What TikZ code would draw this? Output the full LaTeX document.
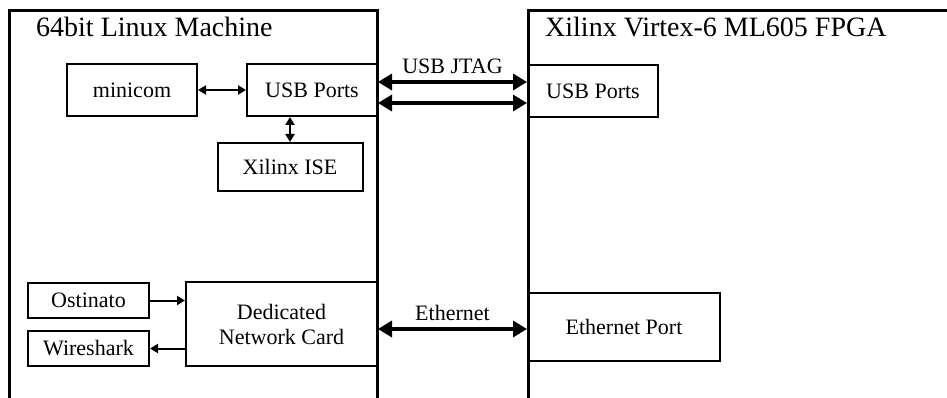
\documentclass[tikz,border=0pt]{standalone}
\usepackage{fontspec}
\setmainfont{Liberation Serif}
\usetikzlibrary{positioning}
\usetikzlibrary{arrows.meta}

\tikzset{
  unit/.style={draw, line width=2pt, inner sep=0pt, align=center,
               font=\fontsize{22}{25}\selectfont},
  heading/.style={anchor=base west, inner sep=0pt,
                  font=\fontsize{28}{30}\selectfont},
  frame/.style={line width=3pt},
  link/.style={{Triangle[length=8pt,width=9pt]}-{Triangle[length=8pt,width=9pt]}, line width=2pt},
  flow/.style={-{Triangle[length=8pt,width=9pt]}, line width=2pt},
  bus/.style={{Triangle[length=14pt,width=16pt]}-{Triangle[length=14pt,width=16pt]}, line width=4.5pt},
  buslabel/.style={above=5pt, inner sep=1pt, font=\fontsize{22}{24}\selectfont}
}

\begin{document}
\begin{tikzpicture}[x=1pt, y=-1pt]

  \useasboundingbox (0,0) rectangle (947,398);

  % the two machines, open at the bottom
  \draw [frame] (9,398) |- (377,11) -- (377,398);
  \draw [frame] (528,398) |- (947,11);

  \node (linux) [heading] at (36,37) {64bit Linux Machine};
  \node (fpga)  [heading] at (545,37) {Xilinx Virtex-6 ML605 FPGA};

  % host side
  \node (minicom) [unit, minimum width=130pt, minimum height=52pt] at (132,90) {minicom};
  \node (usbl) [unit, minimum width=130pt, minimum height=52pt] at (312,90) {USB Ports};
  \node (ise) [unit, minimum width=145pt, minimum height=48pt] at (290,167) {Xilinx ISE};

  \node (nic) [unit, minimum width=191pt, minimum height=84pt] at (281.5,324) {Dedicated\\Network Card};
  \node (ostinato) [unit, minimum width=121pt, minimum height=35pt] at (88.5,300.5) {Ostinato};
  \node (wireshark) [unit, minimum width=121pt, minimum height=35pt] at (88.5,348.5) {Wireshark};

  % board side
  \node (usbr) [unit, minimum width=130pt, minimum height=52pt] at (593,91) {USB Ports};
  \node (ethport) [unit, minimum width=192pt, minimum height=68pt] at (624,327) {Ethernet Port};

  \draw [link] (minicom.east) -- (usbl.west);
  \draw [link] (ise.north) -- (ise.north |- usbl.south);
  \draw [flow] (ostinato.east) -- (ostinato.east -| nic.west);
  \draw [flow] (wireshark.east -| nic.west) -- (wireshark.east);

  \draw [bus] ([yshift=8pt]usbl.east) -- node [buslabel] {USB JTAG} ([yshift=8pt]usbl.east -| usbr.west);
  \draw [bus] ([yshift=-13pt]usbl.east) -- ([yshift=-13pt]usbl.east -| usbr.west);
  \draw [bus] ([yshift=-2pt]ethport.west -| nic.east) -- node [buslabel] {Ethernet} ([yshift=-2pt]ethport.west);

\end{tikzpicture}
\end{document}
